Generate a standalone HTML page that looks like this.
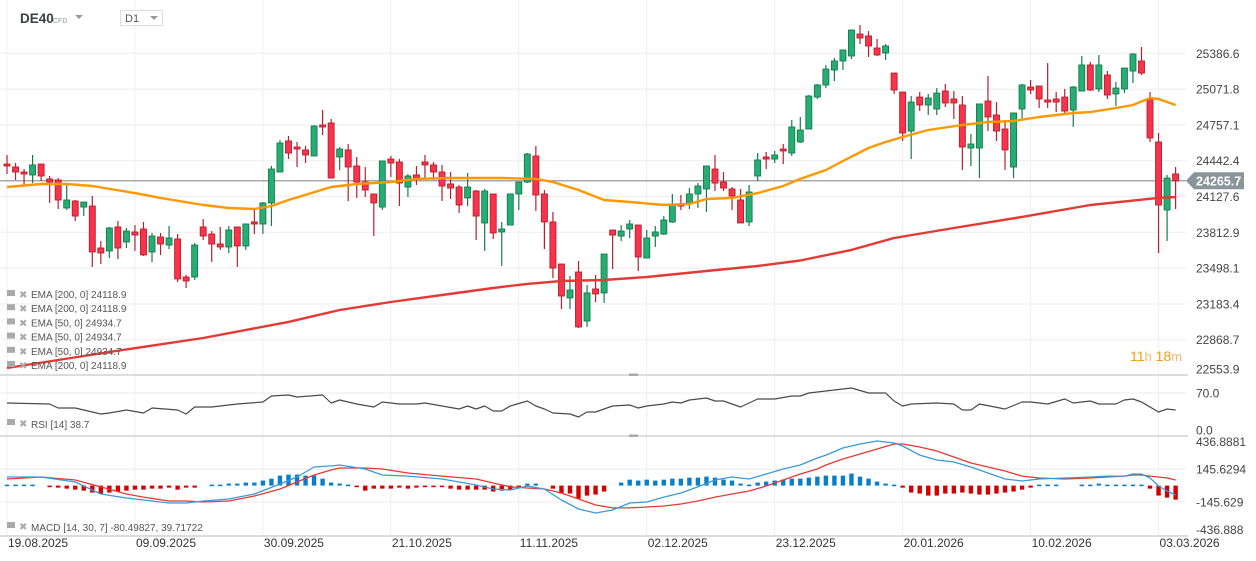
<!DOCTYPE html>
<html><head><meta charset="utf-8"><style>
html,body{margin:0;padding:0;background:#fff;}
svg{display:block;font-family:"Liberation Sans",sans-serif;}
</style></head><body>
<svg id="chart" width="1256" height="561" viewBox="0 0 1256 561" xmlns="http://www.w3.org/2000/svg">
<g id="grid"></g>
<g id="main"></g>
<g id="rsi"></g>
<g id="macd"></g>
<g id="axes"></g>
<g>
  <text x="20" y="23" font-size="13.5" font-weight="bold" fill="#3a3f44">DE40</text>
  <text x="53" y="23" font-size="7" fill="#999">CFD</text>
  <path d="M75,15 L83,15 L79,19 Z" fill="#999"/>
  <rect x="120.5" y="10.5" width="42" height="15" fill="#fff" stroke="#ddd"/>
  <text x="125" y="22" font-size="11" fill="#555">D1</text>
  <path d="M150,16 L158,16 L154,20 Z" fill="#999"/>
</g>
<g>
  <text x="1130" y="361" font-size="14" fill="#f39c12">11<tspan fill="#f5b76b" font-size="13">h</tspan> 18<tspan fill="#f5b76b" font-size="13">m</tspan></text>
</g>
</svg>
<script>
const opens=[24413,24387,24343,24317,24413,24282,24273,24027,24088,24035,
24044,23675,23649,23860,23728,23816,23842,23640,23772,23701,
23754,23420,23420,23860,23798,23710,23684,23860,23693,23904,
23886,24071,24343,24616,24563,24537,24484,24756,24774,24475,
24537,24396,24255,24150,24035,24457,24431,24211,24317,24431,
24405,24343,24238,24211,24115,24176,23895,24150,23816,23877,
24150,24255,24484,24150,23904,23534,23236,23464,23033,23315,
23280,23833,23780,23842,23877,23587,23780,23798,23904,24062,
24071,24150,24194,24369,24255,24194,24097,23904,24308,24475,
24457,24545,24510,24607,24721,25002,25108,25240,25319,25363,
25556,25539,25433,25389,25213,25046,24703,25002,24932,24897,
25055,24985,24932,24554,24554,24967,24844,24721,24387,24897,
25090,25099,24976,24985,25002,24888,25055,25284,25073,25196,
25029,25073,25231,25319,24985,24607,24009,24326];
const highs=[24493,24422,24369,24493,24413,24308,24290,24229,24097,24079,
24132,23737,23860,23912,23851,23877,23904,23807,23807,23868,
23798,23438,23719,23930,23824,23860,23868,23860,23886,24009,
24079,24396,24624,24660,24607,24572,24756,24888,24809,24563,
24589,24475,24387,24150,24440,24484,24457,24326,24396,24493,
24431,24405,24343,24229,24334,24185,24194,24150,23904,24150,
24255,24510,24572,24185,23992,23534,23429,23561,23350,23438,
23622,23833,23877,23921,23877,23833,23868,23956,24150,24141,
24202,24246,24396,24493,24343,24211,24194,24229,24510,24519,
24528,24589,24800,24827,25020,25117,25284,25345,25416,25591,
25635,25582,25512,25468,25213,25046,25011,25046,25029,25081,
25117,25055,25011,24677,24941,25187,24958,24800,24862,25117,
25152,25099,25301,25046,25073,25099,25363,25310,25372,25231,
25134,25257,25389,25442,25046,24686,24317,24387];
const lows=[24326,24273,24220,24246,24264,24071,24018,24009,23912,23956,
23508,23534,23587,23578,23675,23649,23605,23552,23614,23666,
23376,23323,23394,23745,23552,23658,23631,23508,23658,23798,
23798,23868,24343,24457,24387,24422,24484,24668,24290,24361,
24088,24115,24123,23780,24009,24299,24044,24123,24229,24290,
24273,24088,24106,23983,24044,23745,23649,23754,23517,23877,
24009,24246,24000,23666,23411,23139,23139,22972,22981,23200,
23192,23490,23737,23763,23473,23587,23684,23789,23895,24009,
24018,24027,23992,24176,24176,24009,23895,23868,24264,24369,
24422,24413,24484,24598,24721,24985,25081,25143,25240,25336,
25468,25354,25363,25328,25029,24616,24457,24879,24844,24844,
24914,24809,24361,24396,24290,24703,24616,24361,24290,24791,
25029,24906,24906,24870,24844,24739,25055,25055,25046,24985,
24923,25037,25125,25196,24607,23631,23737,24018];
const closes=[24396,24343,24326,24405,24308,24255,24097,24097,23956,24079,
23640,23631,23851,23675,23824,23789,23614,23780,23710,23763,
23403,23385,23701,23780,23710,23684,23833,23693,23886,23886,
24071,24369,24598,24510,24545,24493,24747,24739,24290,24545,
24387,24255,24185,24071,24440,24422,24246,24308,24290,24405,
24343,24220,24202,24053,24211,23956,24176,23807,23842,24150,
24255,24501,24141,23904,23499,23253,23306,22981,23280,23271,
23622,23789,23824,23886,23596,23763,23816,23921,24062,24044,
24150,24220,24396,24246,24202,24132,23895,24167,24449,24457,
24493,24528,24739,24712,25011,25108,25248,25319,25416,25591,
25521,25451,25372,25451,25064,24686,24958,24932,24994,25037,
24950,24950,24563,24589,24941,24827,24703,24537,24862,25108,
25064,24985,24958,24958,24879,25090,25284,25064,25284,25020,
25081,25257,25380,25213,24642,24053,24290,24264];
const ema50Idx=[0,4,7,10,15,18,23,26,29,31,33,38,41,45,48,52,58,62,64,67,70,73,77,80,82,85,88,91,93,96,98,101,103,105,108,112,115,118,121,125,127,130,132,134,135,137];
const ema50Vals=[24211,24238,24238,24220,24158,24115,24053,24027,24018,24044,24097,24211,24238,24255,24282,24290,24290,24282,24255,24185,24097,24079,24053,24062,24106,24115,24158,24220,24282,24361,24440,24554,24607,24651,24712,24756,24782,24791,24827,24862,24870,24906,24932,24994,24985,24932];
const ema200Idx=[0,12,23,33,39,45,51,57,61,65,70,75,82,88,93,99,104,111,119,127,135,137];
const ema200Vals=[22620,22761,22884,23025,23130,23200,23262,23323,23359,23385,23394,23420,23473,23517,23565,23658,23763,23851,23948,24053,24115,24123];
const priceTicks=[25386.6,25071.8,24757.1,24442.4,24127.6,23812.9,23498.1,23183.4,22868.7,22553.9];
const lastPrice=24265.7;
const rsiIdx=[0,5,6,8,10,11,12,14,16,17,20,21,22,24,27,30,31,33,34,37,38,39,41,43,44,46,48,49,51,53,54,55,56,57,58,59,61,62,63,64,66,67,68,69,71,73,74,75,77,78,79,80,82,83,84,86,88,90,92,93,94,96,98,99,101,103,104,105,106,109,111,112,113,114,117,119,120,122,124,125,127,128,130,131,132,133,135,136,137];
const rsiVals=[51.6,49.7,42.4,42.4,35.0,31.3,33.1,38.7,33.1,42.4,38.7,31.3,44.2,44.2,49.7,53.4,64.5,66.3,62.6,66.3,51.6,57.1,49.7,44.2,53.4,49.7,49.7,51.6,46.0,40.5,46.0,40.5,46.0,36.8,36.8,46.0,55.2,46.0,40.5,33.1,31.3,25.8,35.0,35.0,46.0,47.9,42.4,46.0,49.7,53.4,51.6,57.1,60.8,55.2,55.2,44.2,58.9,58.9,64.5,64.5,70.0,73.7,77.3,79.2,70.0,70.0,55.2,46.0,49.7,51.6,49.7,38.7,38.7,49.7,40.5,53.4,53.4,49.7,58.9,51.6,55.2,49.7,49.7,57.1,58.9,53.4,35.0,40.5,38.7];
const rsiTicks=[70.0,0.0];
const macdIdx=[0,4,8,11,14,16,19,21,23,26,29,32,34,36,38,39,42,44,47,51,55,57,59,61,63,65,67,69,71,73,75,77,79,81,83,85,87,89,91,93,95,96,98,100,102,104,105,107,109,111,113,115,117,119,121,124,127,129,131,132,133,134,135,136,137];
const macdVals=[77,77,32,-75,-110,-128,-155,-155,-137,-119,-75,14,77,166,175,183,148,94,85,59,5,-30,-39,-4,-30,-128,-208,-244,-217,-155,-146,-102,-66,-12,50,77,59,103,148,183,246,272,335,370,397,379,353,272,228,210,166,112,59,41,59,68,77,85,85,103,103,68,-4,-48,-84];
const signalVals=[59,77,50,-12,-75,-102,-137,-137,-146,-137,-93,-30,32,94,139,157,157,148,112,85,59,23,-12,-21,-30,-66,-119,-173,-199,-199,-191,-182,-164,-137,-102,-75,-48,-4,50,103,148,183,237,281,326,370,370,344,308,255,201,166,130,85,68,59,68,77,85,94,94,85,77,68,50];
const histVals=[9,9,9,9,0,-9,-18,-27,-36,-45,
-62,-71,-62,-53,-45,-36,-36,-27,-27,-18,
-36,-18,-18,0,9,9,18,18,27,27,
45,62,89,98,98,89,89,62,27,18,
9,-9,-45,-27,-27,-27,-18,-27,-18,-9,
-9,-9,-27,-36,-36,-36,-36,-53,-45,-36,
-18,18,18,0,-27,-71,-71,-115,-89,-80,
-53,0,27,53,45,53,45,53,62,62,
71,71,80,71,53,45,18,9,27,36,
45,53,62,62,71,80,89,89,89,107,
80,62,36,18,9,-18,-62,-71,-89,-89,
-71,-71,-62,-71,-80,-80,-71,-62,-53,-36,
-18,9,9,9,0,0,9,9,18,9,
9,9,9,9,-27,-89,-107,-125];
const macdTicks=[436.8881,145.6294,-145.629,-436.888];
const dateLabels=["19.08.2025","09.09.2025","30.09.2025","21.10.2025","11.11.2025","02.12.2025","23.12.2025","20.01.2026","10.02.2026","03.03.2026"];
const dateIdx=[0,15,30,45,60,75,90,105,120,135];

const NS="http://www.w3.org/2000/svg";
const X=i=>7+i*8.53;
const PY=p=>53.3+(25386.6-p)*0.11375;
const RY=v=>431-v*0.543;
const MY=v=>485.6-v*0.1123;
function mk(parent,tag,attrs){const e=document.createElementNS(NS,tag);for(const k in attrs)e.setAttribute(k,attrs[k]);parent.appendChild(e);return e;}
const grid=document.getElementById('grid'),main=document.getElementById('main'),rsi=document.getElementById('rsi'),macd=document.getElementById('macd'),axes=document.getElementById('axes');

dateIdx.forEach((di,k)=>{
  const l=mk(grid,'line',{x1:X(di),x2:X(di),y1:0,y2:536,stroke:'#efefef','stroke-width':1});
  
  
  const t=mk(axes,'text',{x:X(di)+1,y:547,'font-size':12,fill:'#333'});
  t.textContent=dateLabels[k];
  
  
});
priceTicks.forEach((p,k)=>{
  const y=PY(p);
  if(y<374){const l=mk(grid,'line',{x1:0,x2:1186,y1:y,y2:y,stroke:'#efefef','stroke-width':1.2});
  
  }
  const t=mk(axes,'text',{x:1196,y:Math.min(y,369)+4.5,'font-size':12,fill:'#444'});
  t.textContent=p.toFixed(1);
  
  
});
[[375,'price-pane-border'],[436,'rsi-pane-border'],[536,'macd-pane-border']].forEach(([y,n])=>{
  const l=mk(axes,'line',{x1:0,x2:1188,y1:y,y2:y,stroke:'#dcdcdc','stroke-width':2});
  
  
});
[375,436].forEach(y=>{
  const h=mk(axes,'rect',{x:629,y:y-1.5,width:9,height:2.5,fill:'#aaa'});
  
  
});

const defs=mk(document.getElementById('chart'),'defs',{});
const cp=mk(defs,'clipPath',{id:'mainclip'});mk(cp,'rect',{x:0,y:0,width:1186,height:374});
main.setAttribute('clip-path','url(#mainclip)');

const lpY=PY(lastPrice);
const lpl=mk(main,'line',{x1:0,x2:1186,y1:lpY,y2:lpY,stroke:'#8c8c8c','stroke-width':1.2});



for(let i=0;i<opens.length;i++){
  const up=closes[i]>=opens[i];
  const fill=up?'#26ad74':'#f8334b', stroke=up?'#177a4e':'#b5202f';
  const x=X(i);
  const g=mk(main,'g',{});
  
  
  mk(g,'line',{x1:x,x2:x,y1:PY(highs[i]),y2:PY(lows[i]),stroke:stroke,'stroke-width':1.2});
  const t=PY(Math.max(opens[i],closes[i])), b=PY(Math.min(opens[i],closes[i]));
  mk(g,'rect',{x:x-3,y:t,width:6,height:Math.max(b-t,1.5),fill:fill,stroke:stroke,'stroke-width':0.9});
}
function poly(parent,idx,vals,yf,color,w,name){
  const pts=idx.map((ix,k)=>X(ix).toFixed(1)+','+yf(vals[k]).toFixed(1)).join(' ');
  const p=mk(parent,'polyline',{points:pts,fill:'none',stroke:color,'stroke-width':w,'stroke-linejoin':'round'});
  
  
}
poly(main,ema50Idx,ema50Vals,PY,'#ff9800',2.4,'ema-50-line');
poly(main,ema200Idx,ema200Vals,PY,'#e53935',2.4,'ema-200-line');

const lg=mk(axes,'g',{});


mk(lg,'path',{d:`M1186,${lpY} L1194,${lpY-8.5} L1244,${lpY-8.5} L1244,${lpY+8.5} L1194,${lpY+8.5} Z`,fill:'#8a9599'});
const lt=mk(lg,'text',{x:1196,y:lpY+4.5,'font-size':12.5,'font-weight':'bold',fill:'#fff'});lt.textContent=lastPrice.toFixed(1);

const legend=[["EMA [200,  0]  24118.9"],["EMA [200,  0]  24118.9"],["EMA [50,  0]  24934.7"],["EMA [50,  0]  24934.7"],["EMA [50,  0]  24934.7"],["EMA [200,  0]  24118.9"]];
legend.forEach((r,k)=>{
  const y=298+k*14.2;
  const g=mk(axes,'g',{});
  
  
  mk(g,'rect',{x:7,y:y-8,width:8,height:6,fill:'#aaa'});
  const c=mk(g,'text',{x:19,y:y,'font-size':10,fill:'#aaa'});c.textContent='✖';
  const t=mk(g,'text',{x:31,y:y,'font-size':10,fill:'#555'});t.textContent=r[0];
});

rsiTicks.forEach(v=>{
  const y=RY(v);
  if(v>0){const l=mk(grid,'line',{x1:0,x2:1186,y1:y,y2:y,stroke:'#efefef','stroke-width':1.2});
  
  }
  const t=mk(axes,'text',{x:1196,y:(v>0?y:430)+4.5,'font-size':12,fill:'#444'});t.textContent=v.toFixed(1);
  
  
});
poly(rsi,rsiIdx,rsiVals,RY,'#4a4a4a',1.2,'rsi-line');
{const g=mk(axes,'g',{});


mk(g,'rect',{x:7,y:419,width:8,height:6,fill:'#aaa'});
const c=mk(g,'text',{x:19,y:427,'font-size':10,fill:'#aaa'});c.textContent='✖';
const t=mk(g,'text',{x:31,y:428,'font-size':10,fill:'#555'});t.textContent='RSI  [14]  38.7';}

macdTicks.forEach(v=>{
  const y=MY(v);
  if(Math.abs(v)<200){const l=mk(grid,'line',{x1:0,x2:1186,y1:y,y2:y,stroke:'#efefef','stroke-width':1.2});
  
  }
  const ty=v>400?446:(v<-400?534:y+4.5);
  const t=mk(axes,'text',{x:1196,y:ty,'font-size':12,fill:'#444'});t.textContent=String(v);
  
  
});
histVals.forEach((v,i)=>{
  if(v===0)return;
  const y0=MY(0),y1=MY(v);
  const r=mk(macd,'rect',{x:X(i)-2.2,y:Math.min(y0,y1),width:4.4,height:Math.max(Math.abs(y1-y0),1.6),fill:v>0?'#0a7fc8':'#d40000'});
  
  
});
poly(macd,macdIdx,signalVals,MY,'#e53935',1.3,'macd-signal-line');
poly(macd,macdIdx,macdVals,MY,'#3a9ad9',1.3,'macd-line');
{const g=mk(axes,'g',{});


mk(g,'rect',{x:7,y:522,width:8,height:6,fill:'#aaa'});
const c=mk(g,'text',{x:19,y:530,'font-size':10,fill:'#aaa'});c.textContent='✖';
const t=mk(g,'text',{x:31,y:531,'font-size':10,fill:'#555'});t.textContent='MACD  [14,  30,  7]  -80.49827,   39.71722';}
</script>
</body></html>
